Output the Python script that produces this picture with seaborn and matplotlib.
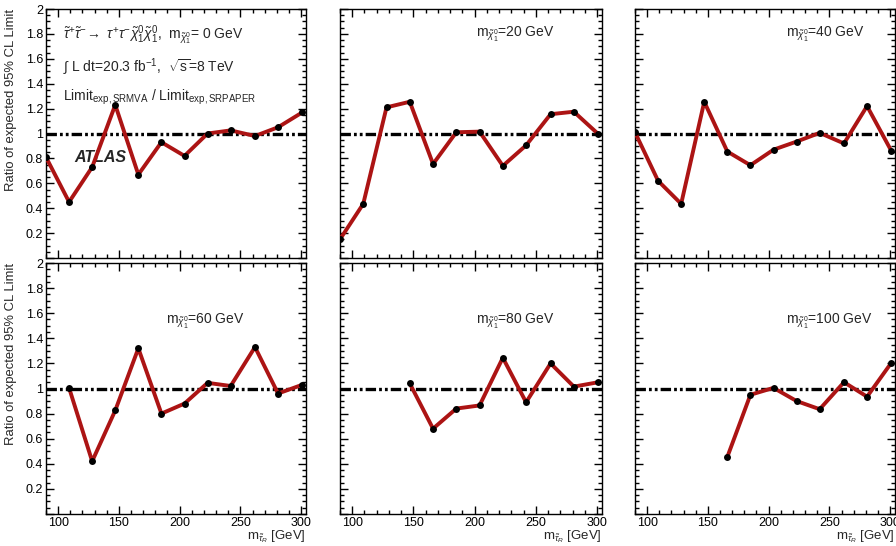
import matplotlib
matplotlib.use("Agg")
import matplotlib.pyplot as plt
import matplotlib.ticker as mticker
import seaborn as sns
import numpy as np
import pandas as pd

# ---- data ----
mstau = [90, 109, 128, 147, 166, 185, 204, 223, 242, 262, 281, 301]
ratio_m0 = [0.81, 0.45, 0.73, 1.23, 0.67, 0.93, 0.82, 1.00, 1.025, 0.98, 1.05, 1.17]
ratio_m20 = [0.15, 0.435, 1.21, 1.255, 0.755, 1.01, 1.015, 0.74, 0.905, 1.155, 1.175, 0.995]
ratio_m40 = [1.01, 0.62, 0.435, 1.255, 0.855, 0.745, 0.87, 0.935, 1.005, 0.92, 1.22, 0.86]
ratio_m60 = [1.005, 0.42, 0.825, 1.32, 0.80, 0.88, 1.045, 1.02, 1.33, 0.96, 1.03]
ratio_m80 = [1.04, 0.68, 0.84, 0.865, 1.245, 0.89, 1.20, 1.015, 1.05]
ratio_m100 = [0.455, 0.95, 1.005, 0.90, 0.835, 1.05, 0.935, 1.205]
mchi = [0, 20, 40, 60, 80, 100]
panel_labels = ["= 0 GeV", "=20 GeV", "=40 GeV", "=60 GeV", "=80 GeV", "=100 GeV"]
xticks = [100, 150, 200, 250, 300]
yticks = [0.0, 0.2, 0.4, 0.6, 0.8, 1.0, 1.2, 1.4, 1.6, 1.8, 2.0]

series = [ratio_m0, ratio_m20, ratio_m40, ratio_m60, ratio_m80, ratio_m100]

sns.set_style("ticks")
plt.rcParams['font.family'] = ['Liberation Sans', 'DejaVu Sans']
plt.rcParams['mathtext.fontset'] = 'custom'
plt.rcParams['mathtext.rm'] = 'Liberation Sans'
plt.rcParams['mathtext.it'] = 'Liberation Sans:italic'
plt.rcParams['mathtext.bf'] = 'Liberation Sans:bold'
plt.rcParams['lines.scale_dashes'] = False

fig = plt.figure(figsize=(8.96, 5.46), dpi=100)
W, H = 896, 546
# pixel rects (left, top, right, bottom)
rects = [
    (46, 9, 306, 258), (340, 9, 602, 258), (635, 9, 895, 258),
    (46, 263, 306, 514), (340, 263, 602, 514), (635, 263, 895, 514),
]
text_x = [None, 0.518, 0.58, 0.46, 0.518, 0.58]
red = "#ac1414"
mchi_sym = r"$\mathrm{m}_{\tilde{\chi}_{1}^{0}}$"

for i, (l, t, r, b) in enumerate(rects):
    ax = fig.add_axes([l / W, 1 - b / H, (r - l) / W, (b - t) / H])
    ys = series[i]
    xs = mstau[len(mstau) - len(ys):]
    df = pd.DataFrame({"m_stau": xs, "ratio": ys})
    ax.axhline(1.0, color="black", lw=2.4, dashes=(7.5, 2.2, 2.0, 2.2, 2.0, 2.2), zorder=3)
    sns.lineplot(data=df, x="m_stau", y="ratio", ax=ax, color=red, lw=2.8,
                 marker="o", markersize=5, markerfacecolor="black",
                 markeredgecolor="black", markeredgewidth=0, zorder=4)
    ax.set_xlim(90, 304)
    ax.set_ylim(0, 2)
    ax.xaxis.set_major_locator(mticker.FixedLocator(xticks))
    ax.xaxis.set_minor_locator(mticker.MultipleLocator(10))
    ax.yaxis.set_major_locator(mticker.FixedLocator(yticks))
    ax.yaxis.set_minor_locator(mticker.MultipleLocator(0.05))
    ax.tick_params(which="both", direction="in", top=True, right=True,
                   width=1.0, colors="black", labelsize=9, pad=2)
    ax.tick_params(which="major", length=6)
    ax.tick_params(which="minor", length=3.2)
    for s in ax.spines.values():
        s.set_linewidth(1.0)
        s.set_color("black")
    if i in (0, 3):
        ax.set_yticklabels(["" if v == 0 else "%g" % v for v in yticks])
        ax.set_ylabel("Ratio of expected 95% CL Limit", fontsize=9.4, loc="top")
        ax.yaxis.set_label_coords(-0.11, 1.0)
    else:
        ax.set_yticklabels([])
        ax.set_ylabel("")
    if i >= 3:
        ax.set_xticklabels([str(v) for v in xticks])
        ax.set_xlabel(r"$\mathrm{m}_{\tilde{\tau}_{R}}$ [GeV]", fontsize=9.5, loc="right", labelpad=0)
    else:
        ax.set_xticklabels([])
        ax.set_xlabel("")
    if i == 0:
        ax.text(0.065, 0.895,
                r"$\tilde{\tau}^{+}\tilde{\tau}^{-}\!\rightarrow\ \tau^{+}\tau^{-}\tilde{\chi}_{1}^{0}\tilde{\chi}_{1}^{0}$,  "
                + mchi_sym + panel_labels[0],
                transform=ax.transAxes, fontsize=10, va="center", ha="left")
        ax.text(0.065, 0.765, r"$\int$ L dt=20.3 fb$^{-1}$,  $\sqrt{\mathrm{s}}$=8 TeV",
                transform=ax.transAxes, fontsize=10, va="center", ha="left")
        ax.text(0.065, 0.645, r"Limit$_{\mathrm{exp,SRMVA}}$ / Limit$_{\mathrm{exp,SRPAPER}}$",
                transform=ax.transAxes, fontsize=10, va="center", ha="left")
        ax.text(0.11, 0.405, "ATLAS", transform=ax.transAxes, fontsize=11.5,
                fontweight="bold", fontstyle="italic", va="center", ha="left")
    else:
        ty = 0.896 if i < 3 else 0.766
        ax.text(text_x[i], ty, mchi_sym + panel_labels[i],
                transform=ax.transAxes, fontsize=10, va="center", ha="left")

fig.savefig("out.png", dpi=100)
